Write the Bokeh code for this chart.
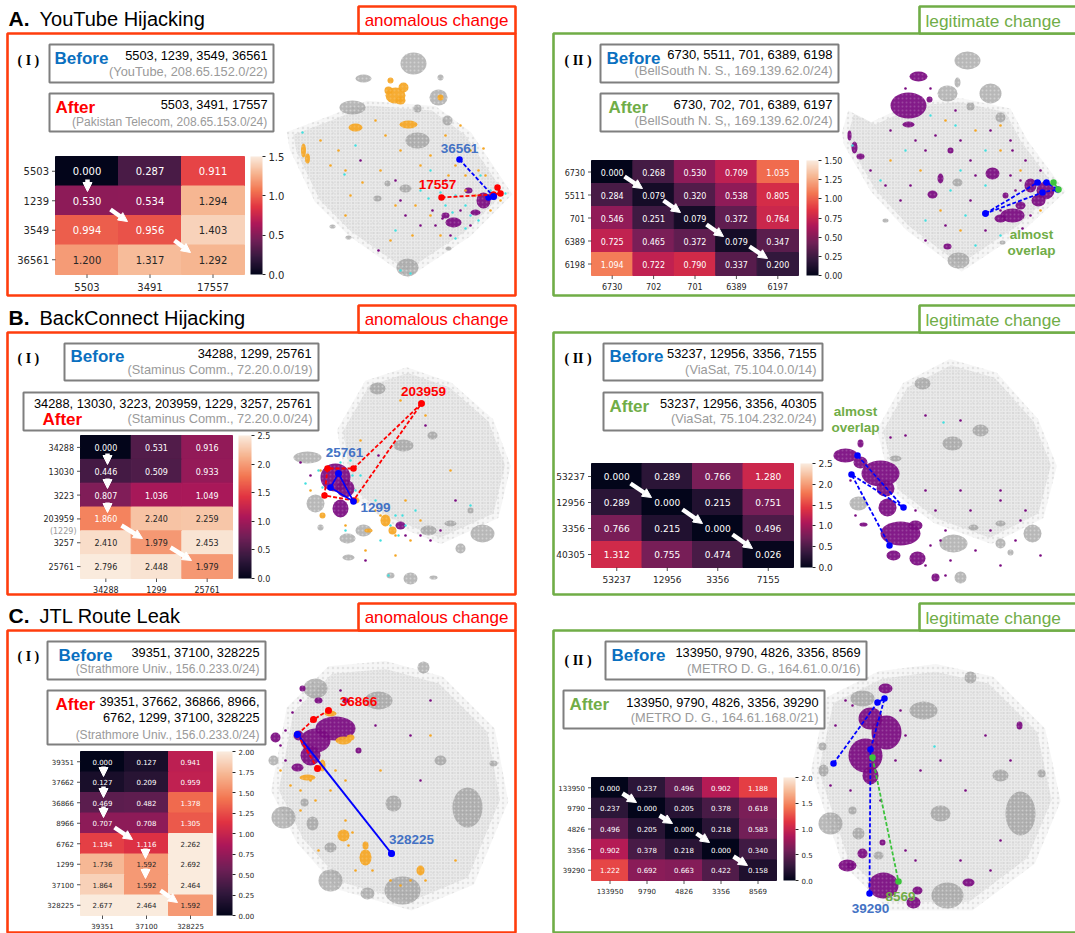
from bokeh.plotting import figure
from bokeh.embed import file_html
from bokeh.resources import INLINE
from bokeh.core.properties import value
from bokeh.models import Range1d, ColorBar, LinearColorMapper, FixedTicker, PrintfTickFormatter, Arrow, NormalHead, ColumnDataSource

# ---------- heatmap data ----------
A1_rows = ["5503", "1239", "3549", "36561"]
A1_cols = ["5503", "3491", "17557"]
A1_vals = [[0.000, 0.287, 0.911], [0.530, 0.534, 1.294], [0.994, 0.956, 1.403], [1.200, 1.317, 1.292]]
A2_rows = ["6730", "5511", "701", "6389", "6198"]
A2_cols = ["6730", "702", "701", "6389", "6197"]
A2_vals = [[0.000, 0.268, 0.530, 0.709, 1.035], [0.284, 0.079, 0.320, 0.538, 0.805], [0.546, 0.251, 0.079, 0.372, 0.764],
           [0.725, 0.465, 0.372, 0.079, 0.347], [1.094, 0.722, 0.790, 0.337, 0.200]]
B1_rows = ["34288", "13030", "3223", "203959", "3257", "25761"]
B1_cols = ["34288", "1299", "25761"]
B1_vals = [[0.000, 0.531, 0.916], [0.446, 0.509, 0.933], [0.807, 1.036, 1.049], [1.860, 2.240, 2.259], [2.410, 1.979, 2.453], [2.796, 2.448, 1.979]]
B2_rows = ["53237", "12956", "3356", "40305"]
B2_cols = ["53237", "12956", "3356", "7155"]
B2_vals = [[0.000, 0.289, 0.766, 1.280], [0.289, 0.000, 0.215, 0.751], [0.766, 0.215, 0.000, 0.496], [1.312, 0.755, 0.474, 0.026]]
C1_rows = ["39351", "37662", "36866", "8966", "6762", "1299", "37100", "328225"]
C1_cols = ["39351", "37100", "328225"]
C1_vals = [[0.000, 0.127, 0.941], [0.127, 0.209, 0.959], [0.469, 0.482, 1.378], [0.707, 0.708, 1.305], [1.194, 1.116, 2.262],
           [1.736, 1.592, 2.692], [1.864, 1.592, 2.464], [2.677, 2.464, 1.592]]
C2_rows = ["133950", "9790", "4826", "3356", "39290"]
C2_cols = ["133950", "9790", "4826", "3356", "8569"]
C2_vals = [[0.000, 0.237, 0.496, 0.902, 1.188], [0.237, 0.000, 0.205, 0.378, 0.618], [0.496, 0.205, 0.000, 0.218, 0.583],
           [0.902, 0.378, 0.218, 0.000, 0.340], [1.222, 0.692, 0.663, 0.422, 0.158]]

W, H = 1075, 933
GREY, PURPLE, ORANGE, CYAN = "#8c8c8c", "#7a0a80", "#f5a623", "#40e0e0"
RED, GREEN, BLUE, LBL = "#ff0000", "#70ad47", "#0a70c0", "#4472c4"
FRAME_R = "#ff3d0d"

ROCKET = ["#03051a", "#35193e", "#701f57", "#ad1759", "#e13342", "#f37651", "#f6b48f", "#faebdd"]
def rgb(h): return [int(h[i:i+2], 16) for i in (1, 3, 5)]
def cmap_color(t):
    t = max(0, min(1, t)) * 7
    i = min(int(t), 6)
    a, b = rgb(ROCKET[i]), rgb(ROCKET[i+1])
    return "#%02x%02x%02x" % tuple(round(a[k] + (b[k]-a[k])*(t-i)) for k in range(3))
PALETTE = [cmap_color(i/255) for i in range(256)]
def lum(h):
    c = [v/255 for v in rgb(h)]
    c = [v/12.92 if v <= .03928 else ((v+.055)/1.055)**2.4 for v in c]
    return .2126*c[0] + .7152*c[1] + .0722*c[2]

p = figure(width=W, height=H, x_range=Range1d(0, W), y_range=Range1d(H, 0), toolbar_location=None,
           output_backend="svg", min_border=0, outline_line_color=None, background_fill_color="white")
p.axis.visible = False
p.grid.visible = False
p.styles = {"position": "absolute", "left": "0px", "top": "0px"}

def txt(x, y, s, size, color="#000000", align="left", bold=False, font="Liberation Sans", **kw):
    p.text(x=[x], y=[y], text=[s], text_font=value(font), text_font_size=f"{size}px", text_color=color, text_align=align,
           text_baseline="middle", text_font_style="bold" if bold else "normal", **kw)

def box(l, r, t, b, color, w, fill=None):
    p.quad(left=[l], right=[r], top=[t], bottom=[b], line_color=color, line_width=w,
           fill_color=fill if fill else "white", fill_alpha=1 if fill else 0)

def heat(idx, rows, cols, vals, rect, vmax, ticks, fmt, size, cb_rect):
    x0, x1, y0, y1 = rect
    sx, sy = (x1-x0)/len(cols), (y1-y0)/len(rows)
    xn, yn = f"hx{idx}", f"hy{idx}"
    p.extra_x_ranges[xn] = Range1d(-x0/sx, (W-x0)/sx)
    p.extra_y_ranges[yn] = Range1d((H-y0)/sy, -y0/sy)
    mapper = LinearColorMapper(palette=PALETTE, low=0, high=vmax)
    xs, ys, cs, ls, tc = [], [], [], [], []
    for i, row in enumerate(vals):
        for j, v in enumerate(row):
            c = cmap_color(v/vmax)
            xs.append(j+.5); ys.append(i+.5); cs.append(c); ls.append(f"{v:.3f}")
            tc.append("#262626" if lum(c) > .408 else "#ffffff")
    src = ColumnDataSource(dict(x=xs, y=ys, c=cs, l=ls, t=tc))
    p.rect(x="x", y="y", width=1, height=1, fill_color="c", line_color="c", source=src, x_range_name=xn, y_range_name=yn)
    p.text(x="x", y="y", text="l", text_color="t", source=src, text_align="center", text_baseline="middle",
           text_font=value("DejaVu Sans"), text_font_size=f"{size}px", x_range_name=xn, y_range_name=yn)
    tl = 3.5
    p.segment(x0=[-tl/sx]*len(rows), x1=[0]*len(rows), y0=[i+.5 for i in range(len(rows))], y1=[i+.5 for i in range(len(rows))],
              line_color="#262626", line_width=.8, x_range_name=xn, y_range_name=yn)
    n = len(rows)
    p.segment(x0=[j+.5 for j in range(len(cols))], x1=[j+.5 for j in range(len(cols))], y0=[n]*len(cols), y1=[n+tl/sy]*len(cols),
              line_color="#262626", line_width=.8, x_range_name=xn, y_range_name=yn)
    p.text(x=[-(tl+3)/sx]*n, y=[i+.5 for i in range(n)], text=rows, text_align="right", text_baseline="middle", text_color="#262626",
           text_font=value("DejaVu Sans"), text_font_size=f"{size}px", x_range_name=xn, y_range_name=yn)
    p.text(x=[j+.5 for j in range(len(cols))], y=[n+(tl+3+size*.6)/sy]*len(cols), text=cols, text_align="center", text_baseline="middle",
           text_color="#262626", text_font=value("DejaVu Sans"), text_font_size=f"{size}px", x_range_name=xn, y_range_name=yn)
    cl, cr = cb_rect
    cb = ColorBar(color_mapper=mapper, location=(cl, H-y1), width=cr-cl, height=y1-y0, padding=0, margin=0,
                  ticker=FixedTicker(ticks=ticks), formatter=PrintfTickFormatter(format=fmt), major_tick_in=0, major_tick_out=3,
                  major_tick_line_color="#262626", major_label_text_font="DejaVu Sans", major_label_text_font_size=f"{size}px",
                  major_label_text_color="#262626", label_standoff=3, bar_line_color=None, border_line_color=None,
                  background_fill_alpha=0, minor_tick_line_color=None)
    p.add_layout(cb, "center")

def arrows(lst):
    for x0, y0, x1, y1 in lst:
        p.add_layout(Arrow(x_start=x0, y_start=y0, x_end=x1, y_end=y1, line_color="white", line_width=4.5,
                           end=NormalHead(size=9, fill_color="white", line_color="white")))

def soft(lst, col, a, hatch=None):
    if not lst:
        return
    cx, cy, rx, ry = zip(*lst)
    kw = dict(hatch_pattern="dot", hatch_color="white", hatch_alpha=hatch, hatch_scale=4, hatch_weight=1) if hatch else {}
    p.ellipse(x=list(cx), y=list(cy), width=[2*v for v in rx], height=[2*v for v in ry], fill_color=col, fill_alpha=a, line_color=None, **kw)

def panel_cloud(hull, grays, purples, oranges, sp_o, sp_c, sp_p, sp_g=()):
    hx, hy = zip(*hull)
    mx, my = sum(hx)/len(hx), sum(hy)/len(hy)
    for k, a, hs, ha in ((1.04, .3, 5, .22), (.97, .55, 3, .32)):
        p.patches(xs=[[mx+(v-mx)*k for v in hx]], ys=[[my+(v-my)*k for v in hy]], fill_color="#e0e0e0", fill_alpha=a, line_color=None,
                  hatch_pattern="dot", hatch_color="#9a9a9a", hatch_alpha=ha, hatch_scale=hs, hatch_weight=1)
    soft(grays, GREY, .62, .35)
    soft(purples, PURPLE, .93, .18)
    soft(oranges, ORANGE, .93, .15)
    for lst, col, s in ((sp_g, GREY, 2.4), (sp_o, ORANGE, 2.6), (sp_c, CYAN, 2.4), (sp_p, PURPLE, 2.6)):
        if lst:
            sx_, sy_ = zip(*lst)
            p.scatter(x=list(sx_), y=list(sy_), size=s, color=col, line_color=None)

def route(pts, color, dash="4 2", width=1.8, nodes=True):
    xs, ys = zip(*pts)
    p.line(list(xs), list(ys), line_color=color, line_width=width, line_dash=dash)
    if nodes:
        p.scatter(list(xs), list(ys), size=6.5, color=color, line_color=None)

# ---- section headings and frames ----
HEAD = [("A.", "YouTube Hijacking", 18, 6, 33, 295), ("B.", "BackConnect Hijacking", 317, 305, 332, 594), ("C.", "JTL Route Leak", 615, 603, 630, 932)]
for letter, title, yc, bt, ft, fb in HEAD:
    box(7, 515, ft, fb, FRAME_R, 2.6)
    box(358, 515, bt, ft, FRAME_R, 2.6, "white")
    txt(8, yc, letter, 21, bold=True)
    txt(39, yc, title, 20)
    txt(436, bt+14, "anomalous change", 17, RED, "center")
    box(553, 1085, ft, fb, GREEN, 2.6)
    box(919, 1085, bt, ft, GREEN, 2.6, "white")
    txt(925, bt+14, "legitimate change", 17.3, GREEN)

# ---- t-SNE overviews (hand-estimated clusters) ----
panel_cloud(
    [(290,133),(333,117),(367,103),(433,108),(467,133),(507,193),(467,233),(407,273),(350,233),(317,200),(293,150)],
    [(413,63,13,11),(363,78,8,4),(440,77,3,3),(352,107,13,7),(438,97,9,8),(447,120,5,5),(417,108,4,4),(405,188,6,4),(377,198,4,3),(387,183,3,3),(407,267,11,9),(332,226,3,2),(348,237,3,2),(448,248,3,2),(417,140,12,8)],
    [(483,200,7,8),(453,222,8,5),(468,190,4,3),(445,215,4,3),(475,212,5,3)],
    [(395,95,10,8),(388,90,4,4),(403,87,5,5),(390,80,3,3),(355,127,7,4),(408,124,9,4),(303,150,2.5,7),(307,158,2.5,5),(440,97,3,3),(400,100,5,4)],
    [(320,140),(338,150),(345,170),(375,120),(385,135),(400,150),(420,165),(430,155),(448,175),(470,150),(483,148),(350,195),(362,182),(380,170),(395,205),(415,205),(430,215),(440,235),(465,175),(478,170),(390,240),(412,235),(345,215),(330,165),(445,135),(460,125),(490,210),(500,200),(455,165),(465,190),(475,195),(485,175)],
    [(302,132),(344,174),(355,145),(430,170),(445,205),(455,195),(465,205),(470,215),(478,220),(490,190),(505,193),(420,190),(395,230),(400,270),(410,273),(480,175),(465,228),(455,238),(440,192),(428,198),(452,212)],
    [(405,215),(420,225),(432,210),(442,218),(470,225),(395,180),(360,160),(378,250),(400,200),(445,180),(450,235),(460,210),(435,225)])
route([(459,159),(493,196),(488,197)], "#0000ff")
route([(441,197),(493,194),(500,193),(497,187)], RED)
p.scatter([493],[196],size=7,color="#0000ff",line_color=None)
txt(459, 148, "36561", 13.5, LBL, "center", True); txt(437, 184, "17557", 13.5, RED, "center", True)

panel_cloud(
    [(845,133),(851,112),(873,123),(917,103),(960,100),(1007,110),(1023,140),(1060,190),(1020,227),(960,267),(907,227),(873,190),(847,145)],
    [(967,60,13,9),(990,93,11,10),(947,93,10,8),(957,82,3,5),(1000,117,5,5),(970,106,4,4),(957,182,5,4),(958,260,11,8),(885,220,3,2),(1002,242,3,2)],
    [(908,105,18,13),(918,76,9,5),(908,124,6,3),(929,99,3,3),(992,173,7,6),(932,194,5,4),(940,178,3,5),(1012,215,12,7),(1000,218,6,4),(1020,205,5,4),(1045,190,9,9),(1030,185,6,7),(1038,200,7,6),(947,246,4,3),(950,150,3,3),(849,135,2,5),(854,147,3,6),(860,156,4,3),(1005,195,3,3)],
    [],
    [(890,160),(920,170),(945,120),(975,130),(1000,125),(940,210),(960,230),(1000,150),(1020,170),(1040,210)],
    [(852,145),(880,180),(905,150),(930,115),(955,125),(985,150),(960,170),(965,215),(925,220),(950,190),(985,185),(1000,235),(975,245)],
    [(870,170),(885,185),(900,200),(915,140),(925,150),(935,135),(960,140),(970,160),(990,130),(1010,140),(1025,160),(1020,180),(970,200),(945,225),(925,240),(910,185),(1000,210),(985,230),(1030,215),(1012,150),(955,110),(890,130),(905,88),(930,88),(975,175),(1010,175),(1022,228),(1015,190),(1040,170)])
route([(985,213),(1037,182),(1046,182),(1057,189),(1042,192),(985,213)], "#0000ff")
route([(1053,182),(1058,189)], "#3cc33c", "solid")
txt(1031, 234, "almost", 13.5, GREEN, "center", True); txt(1031, 250, "overlap", 13.5, GREEN, "center", True)

panel_cloud(
    [(367,383),(407,370),(450,385),(490,420),(507,465),(495,515),(440,540),(390,520),(350,490),(340,430)],
    [(347,538,8,5),(363,530,8,6),(410,578,7,6),(348,557,6,3),(428,530,8,5),(450,523,6,3),(482,533,12,9),(460,548,5,5),(433,577,4,2),(307,457,14,6),(315,503,9,9),(377,388,8,6),(403,445,10,6),(432,435,5,4),(320,527,3,3),(390,575,4,3),(470,510,3,3)],
    [(335,477,15,14),(345,488,9,9),(340,508,8,9),(400,525,5,4)],
    [(385,520,5,6),(392,530,4,4),(355,500,4,3),(322,515,3,3),(368,530,4,2)],
    [(400,400),(425,415),(405,500),(450,470),(360,440),(320,470),(310,490),(345,525),(375,510),(410,540),(420,520),(365,550),(395,555),(395,535),(380,515)],
    [(305,483),(330,450),(350,460),(360,475),(355,490),(322,487),(375,500),(395,515),(405,525),(398,535),(415,510),(380,540),(345,530),(388,575),(470,505),(318,470),(352,475),(340,462),(390,525),(402,515)],
    [(425,425),(455,500),(378,455),(420,535),(440,530),(310,475),(300,462),(430,540),(365,560),(405,535)])
route([(421,403),(353,468),(327,468),(324,495),(353,500),(421,403)], RED)
route([(338,473),(330,487),(353,501),(338,473)], "#0000ff", "solid", 1.6)
txt(423, 391, "203959", 13.5, RED, "center", True); txt(344, 452, "25761", 13.5, LBL, "center", True); txt(375, 507, "1299", 13.5, LBL, "center", True)

panel_cloud(
    [(905,385),(950,362),(995,375),(1035,420),(1053,465),(1040,515),(990,540),(935,520),(895,490),(880,430)],
    [(922,383,8,6),(952,443,10,7),(953,543,14,9),(1032,533,9,9),(1000,543,5,5),(960,577,6,6),(858,503,9,7),(895,458,6,3),(1000,523,5,3),(973,527,5,3),(1010,552,3,3),(980,430,8,6)],
    [(845,455,12,7),(860,462,7,6),(880,473,19,13),(885,488,9,8),(887,507,9,9),(900,533,20,12),(915,525,7,5),(917,558,8,7),(893,555,7,5),(935,577,4,4),(863,524,4,2),(860,443,3,4)],
    [],
    [],
    [(943,422)],
    [(925,415),(890,437),(905,435),(960,420),(1000,490),(1025,510),(1020,520),(970,510),(945,530),(975,550),(1000,565),(950,560),(930,545),(915,510),(925,490),(1000,500),(960,490),(850,480),(855,515),(990,530),(1015,540),(1040,555),(935,510),(940,540),(925,565),(945,575)])
route([(857,455),(903,507),(851,474),(889,545)], "#0000ff")
txt(855, 411, "almost", 13.5, GREEN, "center", True); txt(855, 427, "overlap", 13.5, GREEN, "center", True)

panel_cloud(
    [(385,665),(440,680),(490,730),(503,800),(470,880),(410,905),(340,885),(300,840),(275,790),(290,710),(330,670)],
    [(423,667,6,6),(378,700,14,9),(315,688,12,10),(283,817,12,11),(330,880,12,11),(402,890,18,14),(367,893,7,6),(312,823,6,7),(330,847,6,5),(304,802,4,4),(493,763,4,3),(467,807,15,20),(393,803,8,8),(273,760,5,5),(440,760,6,5)],
    [(335,728,20,12),(315,740,15,12),(310,755,10,10),(298,735,5,5),(275,737,5,5),(297,767,6,4),(302,688,3,3),(358,750,3,3),(318,700,4,3),(345,700,3,3)],
    [(343,740,8,4),(365,857,6,8),(420,870,4,5),(343,835,6,6),(307,777,8,3),(330,713,6,3),(365,845,3,4),(350,737,4,3),(322,765,3,6)],
    [(290,785),(280,770),(300,790),(330,790),(345,780),(318,850),(345,820),(355,870),(390,880),(400,885),(410,880),(380,770),(430,735),(455,860),(300,810),(310,780),(335,770),(315,800),(425,880),(348,845),(352,832),(372,870)],
    [], [(430,700),(410,735),(280,745),(285,760),(375,725),(420,780),(300,700),(340,690),(285,730),(292,712)])
route([(297,734),(391,853)], "#0000ff", "solid", 2)
route([(297,734),(313,719),(328,710)], RED, nodes=False)
route([(297,734),(317,768)], RED, nodes=False)
p.scatter([313,328,317],[719,710,768],size=7,color=RED,line_color=None)
p.scatter([297,391],[734,853],size=7,color="#0000ff",line_color=None)
txt(358, 701, "36866", 13.5, RED, "center", True); txt(411, 839, "328225", 13.5, LBL, "center", True)

panel_cloud(
    [(935,668),(990,680),(1040,730),(1055,800),(1030,860),(970,905),(890,905),(845,860),(825,800),(815,770),(830,700),(880,675)],
    [(970,677,6,6),(923,710,14,9),(862,698,12,8),(830,823,12,11),(947,895,16,13),(858,833,6,6),(878,855,5,4),(823,770,5,6),(822,746,4,4),(1041,773,4,4),(1020,813,15,22),(940,813,10,8),(852,810,4,4),(1000,775,8,6)],
    [(886,732,15,17),(870,718,12,11),(865,755,17,17),(870,775,8,9),(885,688,7,5),(883,885,15,13),(913,902,7,6),(847,865,9,6),(862,853,5,5),(968,882,6,4),(1019,725,3,4),(882,842,3,3),(917,890,5,4),(850,865,4,3)],
    [],
    [],
    [(934,746)],
    [(905,735),(920,770),(830,785),(850,790),(880,800),(845,700),(835,725),(905,850),(915,860),(940,760),(1000,840),(965,790),(985,735),(1010,760),(960,860),(990,870),(900,710),(895,760),(852,705)])
route([(833,763),(877,702),(884,698),(870,749),(869,893)], "#0000ff")
route([(872,757),(898,881)], "#3cc33c")
txt(870, 908, "39290", 13.5, LBL, "center", True); txt(900, 896, "8569", 13.5, GREEN, "center", True)

# ---- text boxes ----
def tb(rect, head, hx, hy, hc, lines):
    box(*rect, "#7f7f7f", 2, "white")
    txt(hx, hy, head, 17, hc, bold=True)
    for x, y, s, size, c in lines:
        txt(x, y, s, size, c, "right")
K, G = "#000000", "#9a9a9a"
for x, y, s in ((17, 60, "( I )"), (564, 60, "( II )"), (17, 358, "( I )"), (564, 358, "( II )"), (17, 656, "( I )"), (564, 660, "( II )")):
    txt(x, y, s, 14, bold=True, font="Liberation Serif")
tb((49,273,44,82), "Before", 54, 58, BLUE, [(267,55,"5503, 1239, 3549, 36561",12.8,K),(267,71,"(YouTube, 208.65.152.0/22)",12.8,G)])
tb((49,273,93,131), "After", 55, 107, RED, [(267,104,"5503, 3491, 17557",12.8,K),(267,121,"(Pakistan Telecom, 208.65.153.0/24)",12,G)])
tb((600,838,44,82), "Before", 606, 58, BLUE, [(832,54,"6730, 5511, 701, 6389, 6198",13,K),(832,70,"(BellSouth N. S., 169.139.62.0/24)",13,G)])
tb((600,838,93,131), "After", 608, 107, GREEN, [(832,104,"6730, 702, 701, 6389, 6197",13,K),(832,120,"(BellSouth N. S,, 169.139.62.0/24)",13,G)])
tb((64,318,343,380), "Before", 70, 356, BLUE, [(311,353,"34288, 1299, 25761",12.8,K),(312,369,"(Staminus Comm., 72.20.0.0/19)",12.8,G)])
tb((23,318,392,430), "After", 42, 419, RED, [(311,403,"34288, 13030, 3223, 203959, 1229, 3257, 25761",12.8,K),(312,418,"(Staminus Comm., 72.20.0.0/24)",12.8,G)])
tb((603,822,343,380), "Before", 609, 356, BLUE, [(816,353,"53237, 12956, 3356, 7155",12.8,K),(816,369,"(ViaSat, 75.104.0.0/14)",12.8,G)])
tb((603,822,392,430), "After", 609, 406, GREEN, [(816,403,"53237, 12956, 3356, 40305",12.8,K),(816,418,"(ViaSat, 75.104.232.0/24)",12.8,G)])
tb((47,265,641,679), "Before", 58, 655, BLUE, [(259,652,"39351, 37100, 328225",12.8,K),(259,668,"(Strathmore Univ., 156.0.233.0/24)",12,G)])
box(47,265,690,744,"#7f7f7f",2,"white")
txt(55, 704, "After", 17, RED, bold=True)
for y, s, size, c in ((701,"39351, 37662, 36866, 8966,",12.8,K),(717,"6762, 1299, 37100, 328225",12.8,K),(734,"(Strathmore Univ., 156.0.233.0/24)",12,G)):
    txt(259, y, s, size, c, "right")
tb((605,866,641,679), "Before", 611, 655, BLUE, [(860,652,"133950, 9790, 4826, 3356, 8569",12.8,K),(860,668,"(METRO D. G., 164.61.0.0/16)",12.8,G)])
tb((563,824,690,728), "After", 569, 704, GREEN, [(818,702,"133950, 9790, 4826, 3356, 39290",12.8,K),(818,717,"(METRO D. G., 164.61.168.0/21)",12.8,G)])

# ---- heatmaps ----
heat(1, A1_rows, A1_cols, A1_vals, (55,244,156,274), 1.5, [0,.5,1,1.5], "%.1f", 10, (250,262))
heat(2, A2_rows, A2_cols, A2_vals, (591,798,160,275), 1.5, [0,.25,.5,.75,1,1.25,1.5], "%.2f", 8, (806,818))
heat(3, B1_rows, B1_cols, B1_vals, (80,232,435,578), 2.5, [0,.5,1,1.5,2,2.5], "%.1f", 8, (238,251))
heat(4, B2_rows, B2_cols, B2_vals, (591,793,463,567), 2.5, [0,.5,1,1.5,2,2.5], "%.1f", 9, (800,812))
heat(5, C1_rows, C1_cols, C1_vals, (80,212,751,915), 2.0, [0,.25,.5,.75,1,1.25,1.5,1.75,2], "%.2f", 7, (216,232))
heat(6, C2_rows, C2_cols, C2_vals, (591,776,777,880), 2.0, [0,.5,1,1.5,2], "%.1f", 7, (783,795))
txt(76, 531, "(1229)", 8, G, "right", font="DejaVu Sans")

arrows([(87,179,87,191),(110,209,127,221),(174,240,190,252),
        (624,176,642,188),(663,200,680,212),(706,224,723,236),(749,246,767,258),
        (107,453,107,464),(107,478,107,488),(107,502,107,512),(121,525,142,538),(170,547,191,560),
        (630,483,651,497),(682,509,702,523),(732,534,752,548),
        (103,766,103,776),(103,786,103,797),(103,806,103,817),(114,827,132,839),(145,848,145,858),(145,868,145,878),(160,890,177,902),
        (622,793,636,802),(659,815,672,823),(696,833,709,842),(733,856,747,865)])

open("out.html", "w").write(file_html(p, INLINE))
